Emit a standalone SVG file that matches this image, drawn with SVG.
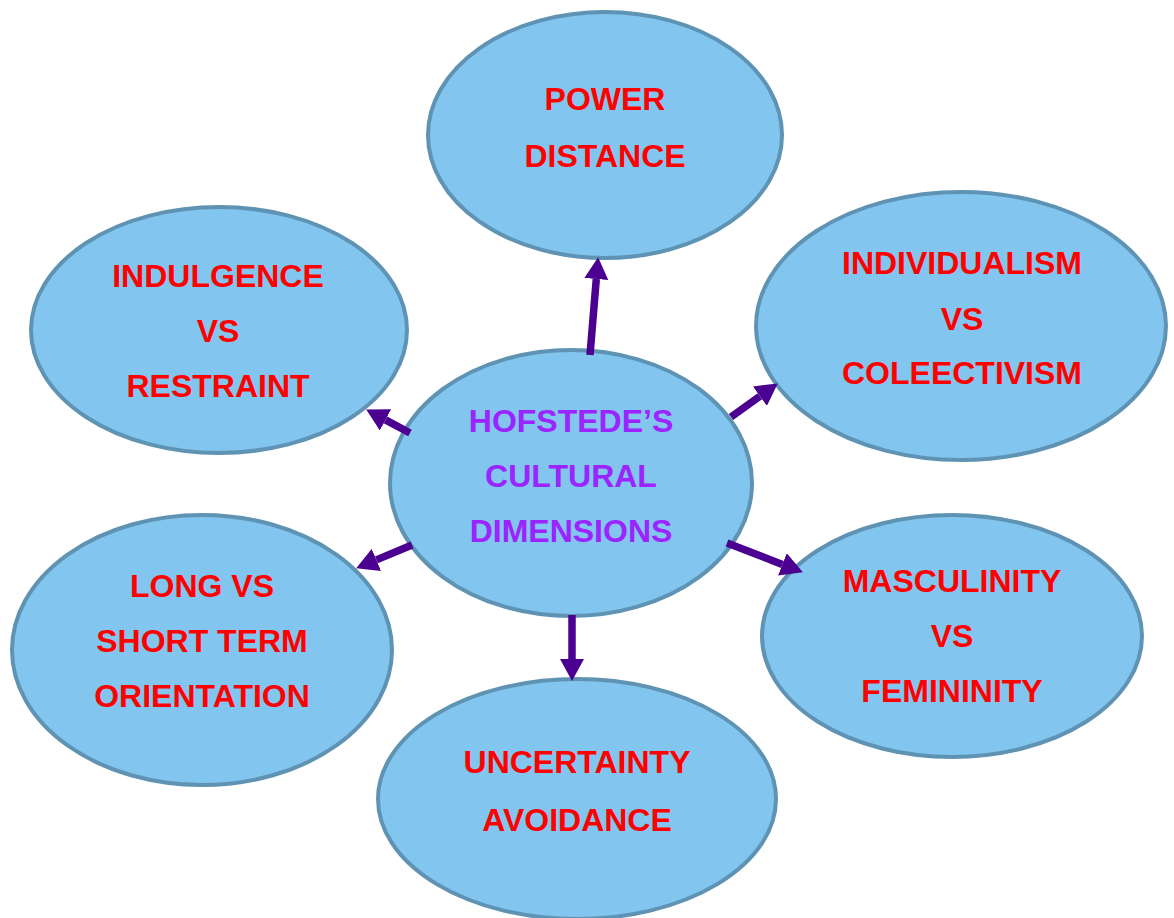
<svg xmlns="http://www.w3.org/2000/svg" width="1174" height="918" viewBox="0 0 1174 918">
<style>
.node{fill:#82C5EE;stroke:#5F93B4;stroke-width:4}
.t{font-family:"Liberation Sans",Arial,sans-serif;font-weight:bold;font-size:32px;fill:#FF0000;text-anchor:middle}
.c{fill:#9B24FF}
.conn{stroke:#4B0091;stroke-width:7.5;fill:none;marker-end:url(#ah)}
</style>
<defs>
<marker id="ah" markerUnits="userSpaceOnUse" markerWidth="22" markerHeight="24" viewBox="0 0 21 23" refX="0" refY="11.5" orient="auto">
<path d="M0,0 L21,11.5 L0,23 z" fill="#4B0091"/>
</marker>
</defs>
<rect width="1174" height="918" fill="#FFFFFF"/>
<g id="power-distance">
<ellipse class="node" cx="605" cy="135" rx="177" ry="123"/>
<text class="t" x="605" y="110">POWER</text>
<text class="t" x="605" y="167">DISTANCE</text>
</g>
<g id="indulgence">
<ellipse class="node" cx="219" cy="330" rx="188" ry="123"/>
<text class="t" x="218" y="287">INDULGENCE</text>
<text class="t" x="218" y="342">VS</text>
<text class="t" x="218" y="397">RESTRAINT</text>
</g>
<g id="individualism">
<ellipse class="node" cx="961" cy="326" rx="205" ry="134"/>
<text class="t" x="962" y="274">INDIVIDUALISM</text>
<text class="t" x="962" y="330">VS</text>
<text class="t" x="962" y="384">COLEECTIVISM</text>
</g>
<g id="long-short">
<ellipse class="node" cx="202" cy="650" rx="190" ry="135"/>
<text class="t" x="202" y="597">LONG VS</text>
<text class="t" x="202" y="652">SHORT TERM</text>
<text class="t" x="202" y="707">ORIENTATION</text>
</g>
<g id="masculinity">
<ellipse class="node" cx="952" cy="636" rx="190" ry="121"/>
<text class="t" x="952" y="592">MASCULINITY</text>
<text class="t" x="952" y="647">VS</text>
<text class="t" x="952" y="702">FEMININITY</text>
</g>
<g id="uncertainty">
<ellipse class="node" cx="577" cy="799" rx="199" ry="120"/>
<text class="t" x="577" y="773">UNCERTAINTY</text>
<text class="t" x="577" y="831">AVOIDANCE</text>
</g>
<g id="hofstede">
<ellipse class="node" cx="571" cy="483" rx="181" ry="133"/>
<text class="t c" x="571" y="432">HOFSTEDE’S</text>
<text class="t c" x="571" y="487">CULTURAL</text>
<text class="t c" x="571" y="542">DIMENSIONS</text>
</g>
<g id="connectors">
<line class="conn" x1="590" y1="355" x2="596.3" y2="279"/>
<line class="conn" x1="410" y1="433" x2="385.5" y2="419.9"/>
<line class="conn" x1="731" y1="417" x2="759.9" y2="396.2"/>
<line class="conn" x1="727" y1="543" x2="782.4" y2="564.4"/>
<line class="conn" x1="572" y1="615" x2="572" y2="659"/>
<line class="conn" x1="412" y1="545" x2="376.4" y2="559.9"/>
</g>
</svg>
